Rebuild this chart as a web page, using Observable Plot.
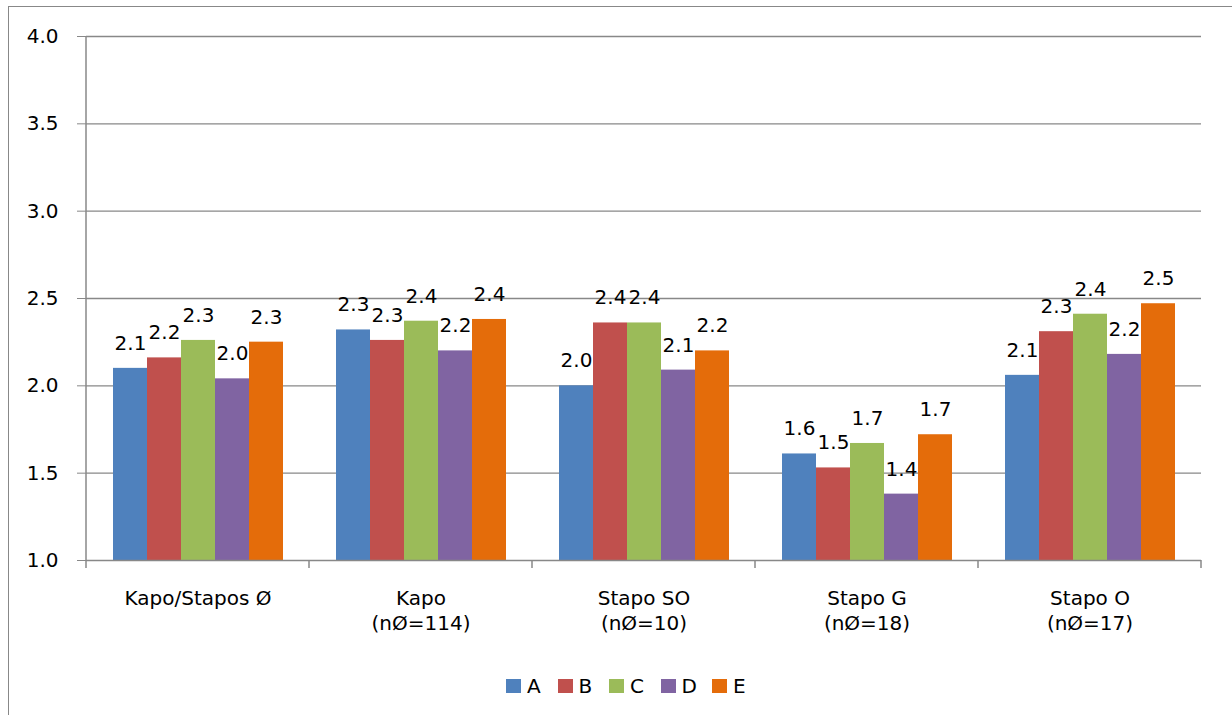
<!DOCTYPE html>
<html>
<head>
<meta charset="utf-8">
<script src="https://cdn.jsdelivr.net/npm/d3@7"></script>
<script src="https://cdn.jsdelivr.net/npm/@observablehq/plot@0.6"></script>
<style>
html, body { margin: 0; padding: 0; width: 1232px; height: 715px; overflow: hidden; background: #fff; font-family: "DejaVu Sans", sans-serif; }
#frame { position: absolute; left: 8px; top: 6px; width: 1400px; height: 900px; border: 1.5px solid #888; box-sizing: border-box; }
#chart { position: absolute; left: 0; top: 0; }
#legend { position: absolute; top: 674px; left: 506px; display: flex; font-size: 20px; color: #000; }
#legend .item { width: 51.5px; display: flex; align-items: center; white-space: nowrap; }
#legend .sw { width: 15px; height: 14px; margin-right: 6px; display: inline-block; }
</style>
</head>
<body>
<div id="frame"></div>
<div id="chart"></div>
<div id="legend"></div>
<script>
const categories = ["Kapo/Stapos Ø", "Kapo\n(nØ=114)", "Stapo SO\n(nØ=10)", "Stapo G\n(nØ=18)", "Stapo O\n(nØ=17)"];
const series = ["A", "B", "C", "D", "E"];
const valuesA = [2.10, 2.32, 2.00, 1.61, 2.06];
const valuesB = [2.16, 2.26, 2.36, 1.53, 2.31];
const valuesC = [2.26, 2.37, 2.36, 1.67, 2.41];
const valuesD = [2.04, 2.20, 2.09, 1.38, 2.18];
const valuesE = [2.25, 2.38, 2.20, 1.72, 2.47];
const colors = ["#4F81BD", "#C0504D", "#9BBB59", "#8064A2", "#E46C0A"];
const yTicks = [1.0, 1.5, 2.0, 2.5, 3.0, 3.5, 4.0];

const seriesValues = [valuesA, valuesB, valuesC, valuesD, valuesE];
const data = categories.flatMap((c, i) => series.map((s, j) => ({category: c, series: s, value: seriesValues[j][i]})));
const fmt = d3.format(".1f");

const plot = Plot.plot({
  width: 1232,
  height: 640,
  marginLeft: 85,
  marginRight: 30,
  marginTop: 36,
  marginBottom: 80,
  style: {fontFamily: "DejaVu Sans", fontSize: "20px", background: "transparent", color: "#000"},
  fx: {domain: categories, padding: 0, label: null},
  x: {domain: series, paddingInner: 0, paddingOuter: 0.75, axis: null},
  y: {domain: [1, 4], label: null},
  color: {domain: series, range: colors},
  marks: [
    Plot.ruleY(yTicks.slice(1), {stroke: "#888", strokeWidth: 1.3}),
    Plot.barY(data, {fx: "category", x: "series", y1: 1, y2: "value", fill: "series"}),
    Plot.text(data, {fx: "category", x: "series", y: "value", text: d => fmt(d.value), dy: -25, fontSize: 20, fill: "#000"}),
    Plot.ruleY([1], {stroke: "#888", strokeWidth: 1.5}),
    Plot.axisY({ticks: yTicks, tickFormat: fmt, tickSize: 9, tickPadding: 19, stroke: "#888", fill: "#000", fontSize: 20, label: null}),
    Plot.axisFx({anchor: "bottom", tickSize: 0, tickPadding: 26, lineHeight: 1.28, fontSize: 20, fill: "#000", label: null})
  ]
});

document.getElementById("chart").appendChild(plot);

// axis line and category boundary ticks, drawn with the plot's own scales
const ys = plot.scale("y");
const fxs = plot.scale("fx");
const svg = d3.select(plot);
const x0 = fxs.apply(categories[0]);
const bounds = categories.map(c => fxs.apply(c)).concat([fxs.apply(categories[categories.length - 1]) + fxs.bandwidth]);
const g = svg.append("g").attr("stroke", "#888").attr("stroke-width", 1.5);
g.append("line").attr("x1", x0).attr("x2", x0).attr("y1", ys.apply(4)).attr("y2", ys.apply(1));
g.selectAll("line.b").data(bounds).join("line").attr("class", "b")
  .attr("x1", d => d).attr("x2", d => d).attr("y1", ys.apply(1)).attr("y2", ys.apply(1) + 8);

// legend
const legend = d3.select("#legend");
series.forEach((s, i) => {
  const it = legend.append("div").attr("class", "item");
  it.append("span").attr("class", "sw").style("background", colors[i]);
  it.append("span").text(s);
});
</script>
</body>
</html>
